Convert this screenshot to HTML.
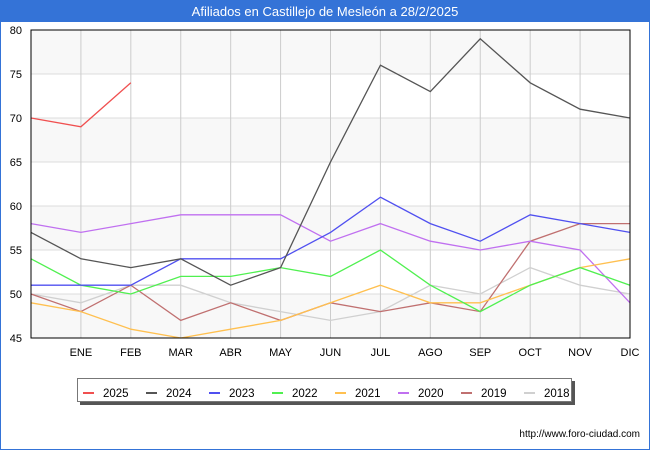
<!DOCTYPE html>
<html><head><meta charset="utf-8"><style>
body{margin:0;width:650px;height:450px;background:#fff;overflow:hidden;font-family:"Liberation Sans","DejaVu Sans",sans-serif}
</style></head><body>
<svg width="650" height="450" xmlns="http://www.w3.org/2000/svg" id="svg">
<rect x="0" y="0" width="650" height="450" fill="#fff" stroke="#3473d7" stroke-width="2"/>
<rect x="0" y="0" width="650" height="22" fill="#3473d7"/>
<text x="325" y="16" text-anchor="middle" fill="#fff" font-size="13">Afiliados en Castillejo de Mesleón a 28/2/2025</text>
<g id="grid"></g>
<g id="series"></g>
<rect x="31" y="30" width="599" height="308" fill="none" stroke="#000" stroke-width="1"/>
<g id="legend"></g>
<text x="640" y="437" text-anchor="end" font-size="10" fill="#000">http://www.foro-ciudad.com</text>
</svg>
<script>
const months=["","ENE","FEB","MAR","ABR","MAY","JUN","JUL","AGO","SEP","OCT","NOV","DIC"];
const yTicks=[45,50,55,60,65,70,75,80];
const years=["2025","2024","2023","2022","2021","2020","2019","2018"];
const colors=["#f05050","#555555","#5050f0","#50f050","#ffc050","#c070f0","#c07070","#d0d0d0"];
const s2025=[70,69,74];
const s2024=[57,54,53,54,51,53,65,76,73,79,74,71,70];
const s2023=[51,51,51,54,54,54,57,61,58,56,59,58,57];
const s2022=[54,51,50,52,52,53,52,55,51,48,51,53,51];
const s2021=[49,48,46,45,46,47,49,51,49,49,51,53,54];
const s2020=[58,57,58,59,59,59,56,58,56,55,56,55,49];
const s2019=[50,48,51,47,49,47,49,48,49,48,56,58,58];
const s2018=[50,49,51,51,49,48,47,48,51,50,53,51,50];
const series=[s2025,s2024,s2023,s2022,s2021,s2020,s2019,s2018];
const NS="http://www.w3.org/2000/svg";
const X0=31,X1=630,Y0=338,Y1=30;
const x=i=>X0+i*(X1-X0)/12;
const y=v=>Y0-(v-45)*(Y0-Y1)/35;
function mk(t,a,p){const e=document.createElementNS(NS,t);for(const k in a)e.setAttribute(k,a[k]);p.appendChild(e);return e;}
const g=document.getElementById('grid');
for(let i=0;i<yTicks.length-1;i++){if(i%2==0){const b=mk('rect',{x:X0,y:y(yTicks[i+1]),width:X1-X0,height:y(yTicks[i])-y(yTicks[i+1]),fill:'#f8f8f8'},g);

}}
yTicks.forEach(v=>{const l=mk('line',{x1:X0,x2:X1,y1:y(v),y2:y(v),stroke:'#dddddd'},g);


const t=mk('text',{x:X0-9,y:y(v)+4,'text-anchor':'end','font-size':'11',fill:'#000'},g);t.textContent=v;

});
months.forEach((m,i)=>{if(i==0)return;const l=mk('line',{x1:x(i),x2:x(i),y1:Y1,y2:Y0,stroke:'#cccccc'},g);


const t=mk('text',{x:x(i),y:356,'text-anchor':'middle','font-size':'11',fill:'#000'},g);t.textContent=m;

});
const sg=document.getElementById('series');
for(let k=series.length-1;k>=0;k--){const p=mk('polyline',{points:series[k].map((v,i)=>x(i)+','+y(v)).join(' '),fill:'none',stroke:colors[k],'stroke-width':'1.3'},sg);

}
const lg=document.getElementById('legend');
const sh=mk('rect',{x:80,y:381,width:495,height:24,fill:'#555'},lg);


const box=mk('rect',{x:77.5,y:378.5,width:494,height:23,fill:'#fff',stroke:'#777'},lg);


years.forEach((yr,k)=>{const bx=83+k*63;
const l=mk('line',{x1:bx,x2:bx+11,y1:393,y2:393,stroke:colors[k],'stroke-width':'2'},lg);


const t=mk('text',{x:bx+20,y:397,'font-size':'11.5',fill:'#000'},lg);t.textContent=yr;

});
</script>
</body></html>
